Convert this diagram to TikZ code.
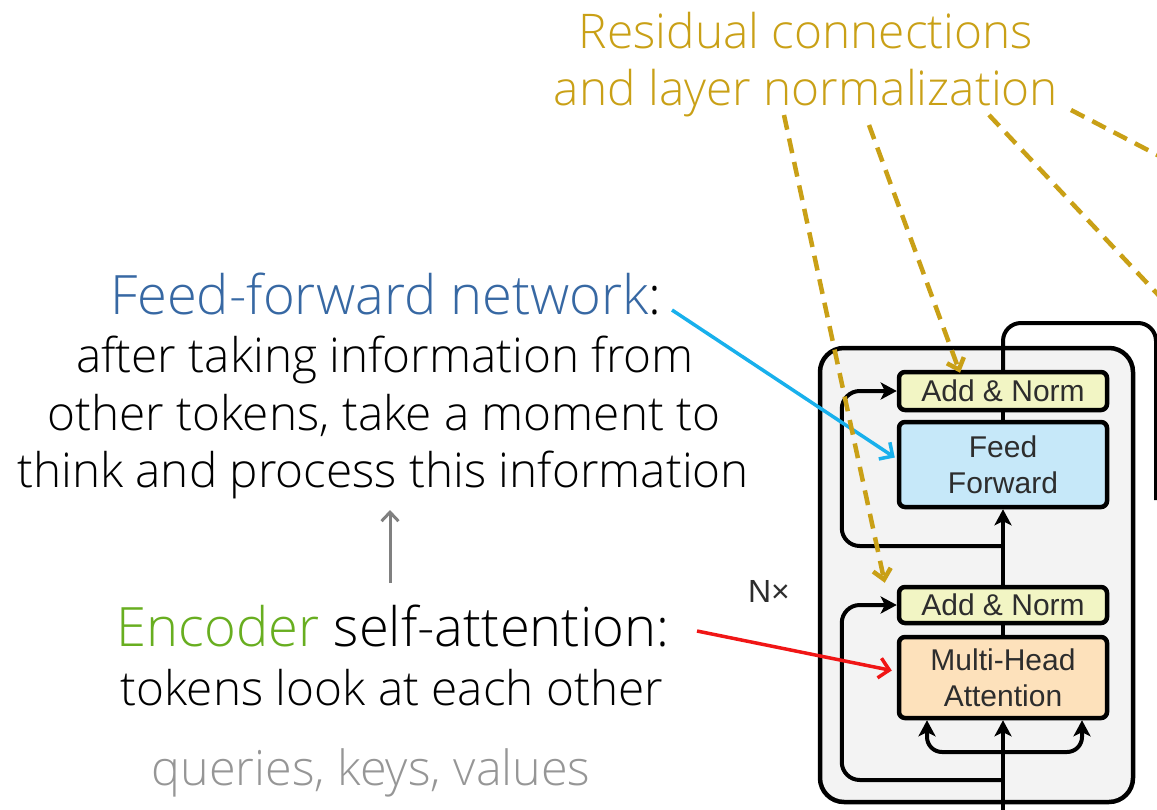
\documentclass[tikz,border=0pt]{standalone}
\usepackage{fontspec}
\setmainfont{Open Sans Light}
\newfontfamily\boxfont{Liberation Sans}
\usetikzlibrary{arrows.meta,calc}

\definecolor{goldline}{RGB}{201,160,22}
\definecolor{ffblue}{RGB}{55,104,163}
\definecolor{encgreen}{RGB}{104,174,32}
\definecolor{cyanarrow}{RGB}{24,176,236}
\definecolor{redarrow}{RGB}{240,22,22}
\definecolor{softgray}{RGB}{150,150,150}
\definecolor{arrowgray}{RGB}{128,128,128}
\definecolor{normfill}{RGB}{242,245,196}
\definecolor{fffill}{RGB}{198,232,249}
\definecolor{attfill}{RGB}{253,225,187}
\definecolor{layerfill}{RGB}{243,243,243}
\definecolor{boxtext}{RGB}{45,45,45}

\begin{document}
\begin{tikzpicture}[x=1pt,y=-1pt,
  headline/.style={font=\fontsize{54.3}{60}\selectfont, anchor=base, inner sep=0pt},
  calloutline/.style={font=\fontsize{47.8}{55}\selectfont, anchor=base, inner sep=0pt, text=goldline},
  bodyline/.style={font=\fontsize{47.7}{58}\selectfont, anchor=base, inner sep=0pt},
  block/.style={draw=black, line width=4.5pt, rounded corners=6pt,
    minimum width=208pt, inner sep=0pt, align=center, text=boxtext,
    font=\boxfont\fontsize{30}{36}\selectfont},
  layer/.style={draw=black, line width=4.5pt, rounded corners=24pt, fill=layerfill,
    minimum width=313pt, minimum height=454pt, inner sep=0pt},
  wire/.style={draw=black, line width=4pt},
  warrow/.style={wire, -{Stealth[length=16pt,width=17pt,inset=4pt]}},
  pointer/.style={line width=3.5pt, -{Straight Barb[length=10pt,width=20pt]}},
  resid/.style={draw=goldline, line width=4.5pt, dash pattern=on 15pt off 9pt,
    -{Straight Barb[length=10pt,width=18pt]}},
]
\useasboundingbox (0,0) rectangle (1157,809);
\begin{scope}
\clip (0,0) rectangle (1157,809);

% ---------- encoder layer ----------
\node[layer] (layer) at (976.5,575) {};

\node[block, fill=normfill, minimum height=38pt] (an2) at (1003,391) {Add \& Norm};
\node[block, fill=fffill, minimum height=85pt] (ff) at (1003,464.5) {Feed\\Forward};
\node[block, fill=normfill, minimum height=36pt] (an1) at (1003,605) {Add \& Norm};
\node[block, fill=attfill, minimum height=81pt] (mha) at (1003,677.5) {Multi-Head\\Attention};

\node[font=\boxfont\fontsize{32}{36}\selectfont, text=boxtext, anchor=base, inner sep=0pt] (nx) at (769,602) {N\texttimes};

\coordinate (inB) at (1003,815);
\coordinate (fork) at (1003,752);
\coordinate (res1) at (1003,780);
\coordinate (res2) at (1003,546);
\coordinate (corner) at (1156,323);
\coordinate (outR) at (1156,500);

% input, query/key/value fork
\draw[warrow] (inB) -- (mha.south);
\draw[warrow, rounded corners=15pt] (fork) -| ($(mha.south)+(-76,0)$);
\draw[warrow, rounded corners=15pt] (fork) -| ($(mha.south)+(79,0)$);
% residual around attention
\draw[warrow, rounded corners=18pt] (res1) -| ($(an1.west)+(-55,0)$) -- (an1.west);
\draw[wire] (mha.north) -- (an1.south);
\draw[warrow] (an1.north) -- (ff.south);
% residual around feed-forward
\draw[warrow, rounded corners=18pt] (res2) -| ($(an2.west)+(-55,0)$) -- (an2.west);
\draw[wire] (ff.north) -- (an2.south);
% output of the layer
\draw[wire, rounded corners=18pt] (an2.north) |- (corner) -- (outR);

% ---------- left annotations ----------
\node[headline] (ffTitle) at (386,314) {\textcolor{ffblue}{Feed-forward network}:};
\node[bodyline] (ffL1) at (385,372) {after taking information from};
\node[bodyline] (ffL2) at (384,430) {other tokens, take a moment to};
\node[bodyline] (ffL3) at (383,487) {think and process this information};

\node[headline] (encTitle) at (393,646) {\textcolor{encgreen}{Encoder} self-attention:};
\node[bodyline] (encL1) at (392,705) {tokens look at each other};
\node[bodyline, font=\fontsize{48.5}{58}\selectfont, text=softgray] (qkv) at (371,785) {queries, keys, values};

\coordinate (upFrom) at (390,583);
\coordinate (upTo) at (390,510);
\draw[line width=3pt, draw=arrowgray, -{Straight Barb[length=9pt,width=17pt]}] (upFrom) -- (upTo);

% pointers into the layer
\coordinate (ffStart) at (672,310);
\coordinate (encStart) at (697,631);
\draw[pointer, draw=cyanarrow] (ffStart) -- ($(ff.west)+(-2,-7)$);
\draw[pointer, draw=redarrow] (encStart) -- ($(mha.west)+(-5,-7)$);

% ---------- residual / layer norm callout ----------
\node[calloutline] (resA) at (806,48) {Residual connections};
\node[calloutline] (resB) at (806,105) {and layer normalization};

\coordinate (g1) at (784,115);
\coordinate (g2) at (869,125);
\coordinate (g3) at (989,115);
\coordinate (g3end) at (1180,318);
\coordinate (g4) at (1071,110);
\coordinate (g4end) at (1190,172);
\draw[resid] (g1) -- ($(an1.north west)+(-12,-2)$);
\draw[resid] (g2) -- ($(an2.north)+(-43,3)$);
\draw[resid, -] (g3) -- (g3end);
\draw[resid, -] (g4) -- (g4end);
\end{scope}
\end{tikzpicture}
\end{document}
